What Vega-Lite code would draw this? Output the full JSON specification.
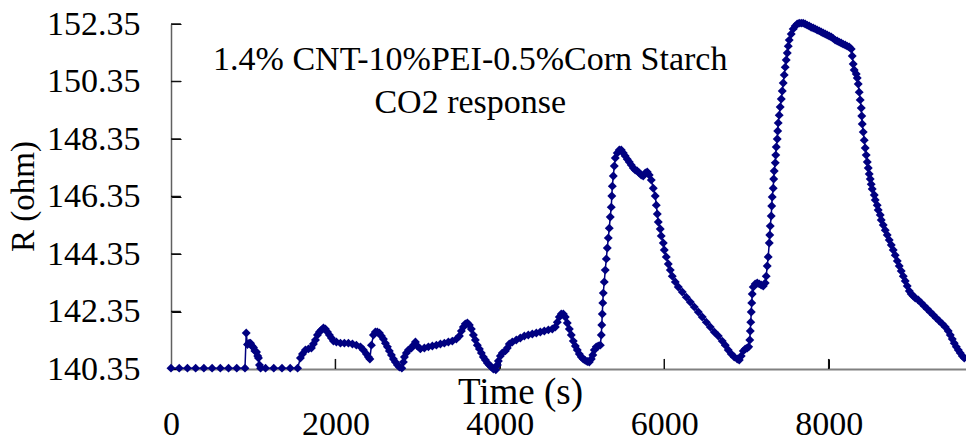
{
  "$schema": "https://vega.github.io/schema/vega-lite/v6.json",
  "width": 795,
  "height": 345,
  "autosize": {"type": "none"},
  "padding": {"left": 171, "top": 24, "right": 0, "bottom": 67},
  "background": "white",
  "config": {
    "view": {"stroke": null},
    "font": "Liberation Serif",
    "axis": {"grid": false, "labelColor": "#000", "titleColor": "#000", "titleFontWeight": "normal", "labelFont": "Liberation Serif", "titleFont": "Liberation Serif"}
  },
  "data": {"values": [
    {"t":0,"r":140.38},{"t":100,"r":140.38},{"t":200,"r":140.38},{"t":300,"r":140.38},{"t":400,"r":140.38},{"t":500,"r":140.38},{"t":600,"r":140.38},{"t":700,"r":140.38},{"t":800,"r":140.38},{"t":900,"r":140.38},
    {"t":915,"r":141.6},{"t":930,"r":141.2},{"t":950,"r":141.25},{"t":967,"r":141.25},{"t":985,"r":141.15},{"t":1003,"r":141.1},{"t":1020,"r":140.98},{"t":1040,"r":140.94},{"t":1055,"r":140.8},{"t":1064,"r":140.73},{"t":1076,"r":140.49},{"t":1090,"r":140.38},
    {"t":1150,"r":140.38},{"t":1250,"r":140.38},{"t":1350,"r":140.38},{"t":1450,"r":140.38},{"t":1540,"r":140.38},
    {"t":1574,"r":140.73},{"t":1599,"r":140.87},{"t":1635,"r":141.01},{"t":1672,"r":141.05},{"t":1708,"r":141.08},{"t":1732,"r":141.22},{"t":1757,"r":141.36},{"t":1781,"r":141.53},{"t":1805,"r":141.64},{"t":1830,"r":141.71},{"t":1854,"r":141.78},{"t":1878,"r":141.74},{"t":1903,"r":141.64},{"t":1927,"r":141.53},{"t":1951,"r":141.43},{"t":1976,"r":141.32},{"t":2012,"r":141.29},{"t":2061,"r":141.25},{"t":2109,"r":141.25},{"t":2158,"r":141.25},{"t":2207,"r":141.22},{"t":2255,"r":141.18},{"t":2304,"r":141.12},{"t":2340,"r":141.01},{"t":2377,"r":140.87},{"t":2401,"r":140.77},{"t":2419,"r":140.7},
    {"t":2438,"r":141.18},{"t":2462,"r":141.53},{"t":2486,"r":141.64},{"t":2510,"r":141.64},{"t":2535,"r":141.6},{"t":2559,"r":141.5},{"t":2584,"r":141.39},{"t":2608,"r":141.25},{"t":2632,"r":141.12},{"t":2656,"r":140.98},{"t":2681,"r":140.84},{"t":2705,"r":140.7},{"t":2729,"r":140.59},{"t":2754,"r":140.49},{"t":2778,"r":140.42},{"t":2808,"r":140.38},
    {"t":2827,"r":140.59},{"t":2839,"r":140.77},{"t":2863,"r":140.91},{"t":2888,"r":141.01},{"t":2924,"r":141.08},{"t":2948,"r":141.18},{"t":2973,"r":141.29},{"t":2997,"r":141.15},{"t":3033,"r":141.05},{"t":3082,"r":141.08},{"t":3131,"r":141.12},{"t":3179,"r":141.15},{"t":3228,"r":141.18},{"t":3277,"r":141.22},{"t":3325,"r":141.25},{"t":3374,"r":141.29},{"t":3422,"r":141.32},{"t":3471,"r":141.39},{"t":3508,"r":141.5},{"t":3532,"r":141.67},{"t":3556,"r":141.81},{"t":3580,"r":141.92},{"t":3605,"r":141.95},{"t":3629,"r":141.88},{"t":3653,"r":141.74},{"t":3678,"r":141.53},{"t":3702,"r":141.36},{"t":3726,"r":141.18},{"t":3751,"r":141.05},{"t":3775,"r":140.91},{"t":3799,"r":140.77},{"t":3824,"r":140.66},{"t":3848,"r":140.56},{"t":3872,"r":140.49},{"t":3897,"r":140.42},{"t":3921,"r":140.35},{"t":3951,"r":140.32},
    {"t":3970,"r":140.49},{"t":3982,"r":140.63},{"t":4006,"r":140.8},{"t":4030,"r":140.91},{"t":4067,"r":140.98},{"t":4091,"r":141.08},{"t":4115,"r":141.22},{"t":4152,"r":141.29},{"t":4200,"r":141.36},{"t":4249,"r":141.43},{"t":4298,"r":141.5},{"t":4346,"r":141.53},{"t":4395,"r":141.57},{"t":4444,"r":141.6},{"t":4492,"r":141.64},{"t":4541,"r":141.67},{"t":4590,"r":141.71},{"t":4638,"r":141.74},{"t":4675,"r":141.81},{"t":4699,"r":141.98},{"t":4723,"r":142.16},{"t":4747,"r":142.26},{"t":4772,"r":142.26},{"t":4796,"r":142.16},{"t":4820,"r":141.95},{"t":4845,"r":141.74},{"t":4869,"r":141.53},{"t":4893,"r":141.32},{"t":4918,"r":141.15},{"t":4942,"r":141.01},{"t":4966,"r":140.87},{"t":4991,"r":140.77},{"t":5015,"r":140.7},{"t":5039,"r":140.65},{"t":5064,"r":140.61},{"t":5088,"r":140.59},{"t":5112,"r":140.7},{"t":5131,"r":140.84},{"t":5149,"r":141.01},{"t":5173,"r":141.12},{"t":5197,"r":141.15},{"t":5222,"r":141.18},
    {"t":5234,"r":141.53},{"t":5240,"r":141.88},{"t":5246,"r":142.26},{"t":5252,"r":142.65},{"t":5258,"r":142.99},{"t":5270,"r":143.38},{"t":5282,"r":143.79},{"t":5295,"r":144.18},{"t":5307,"r":144.56},{"t":5319,"r":144.91},{"t":5331,"r":145.25},{"t":5343,"r":145.64},{"t":5355,"r":145.98},{"t":5362,"r":146.37},{"t":5368,"r":146.71},{"t":5380,"r":147.06},{"t":5392,"r":147.41},{"t":5404,"r":147.69},{"t":5428,"r":147.86},{"t":5453,"r":147.97},{"t":5477,"r":147.97},{"t":5501,"r":147.86},{"t":5525,"r":147.76},{"t":5550,"r":147.65},{"t":5574,"r":147.55},{"t":5598,"r":147.45},{"t":5623,"r":147.34},{"t":5647,"r":147.27},{"t":5671,"r":147.24},{"t":5696,"r":147.17},{"t":5720,"r":147.1},{"t":5744,"r":147.06},{"t":5769,"r":147.17},{"t":5793,"r":147.2},{"t":5817,"r":147.1},{"t":5842,"r":146.92},{"t":5866,"r":146.64},{"t":5890,"r":146.37},{"t":5903,"r":146.05},{"t":5915,"r":145.74},{"t":5927,"r":145.46},{"t":5951,"r":145.22},{"t":5963,"r":144.98},{"t":5988,"r":144.73},{"t":6000,"r":144.49},{"t":6024,"r":144.25},{"t":6049,"r":144.0},{"t":6073,"r":143.79},{"t":6097,"r":143.58},{"t":6134,"r":143.38},{"t":6170,"r":143.2},{"t":6219,"r":143.03},{"t":6268,"r":142.85},{"t":6316,"r":142.68},{"t":6365,"r":142.51},{"t":6414,"r":142.33},{"t":6462,"r":142.16},{"t":6511,"r":141.98},{"t":6559,"r":141.81},{"t":6608,"r":141.64},{"t":6657,"r":141.5},{"t":6705,"r":141.32},{"t":6742,"r":141.18},{"t":6778,"r":141.01},{"t":6815,"r":140.87},{"t":6851,"r":140.77},{"t":6888,"r":140.7},{"t":6912,"r":140.66},
    {"t":6936,"r":140.8},{"t":6961,"r":140.98},{"t":6985,"r":141.05},{"t":7009,"r":141.08},{"t":7027,"r":141.12},{"t":7040,"r":141.36},{"t":7046,"r":141.67},{"t":7052,"r":141.98},{"t":7058,"r":142.33},{"t":7064,"r":142.65},{"t":7070,"r":142.96},{"t":7082,"r":143.2},{"t":7106,"r":143.31},{"t":7131,"r":143.34},{"t":7155,"r":143.31},{"t":7179,"r":143.27},{"t":7204,"r":143.24},{"t":7228,"r":143.34},{"t":7240,"r":143.58},{"t":7252,"r":143.93},{"t":7264,"r":144.25},{"t":7277,"r":144.73},{"t":7283,"r":145.01},{"t":7289,"r":145.32},{"t":7301,"r":145.67},{"t":7307,"r":146.02},{"t":7313,"r":146.33},{"t":7325,"r":146.64},{"t":7331,"r":146.96},{"t":7337,"r":147.24},{"t":7350,"r":147.52},{"t":7356,"r":147.79},{"t":7362,"r":148.07},{"t":7374,"r":148.35},{"t":7380,"r":148.63},{"t":7386,"r":148.91},{"t":7398,"r":149.18},{"t":7410,"r":149.46},{"t":7423,"r":149.74},{"t":7435,"r":150.02},{"t":7447,"r":150.3},{"t":7459,"r":150.58},{"t":7471,"r":150.85},{"t":7483,"r":151.1},{"t":7496,"r":151.34},{"t":7508,"r":151.58},{"t":7520,"r":151.79},{"t":7544,"r":152.0},{"t":7568,"r":152.18},{"t":7593,"r":152.28},{"t":7617,"r":152.35},{"t":7641,"r":152.38},{"t":7666,"r":152.38},{"t":7690,"r":152.38},{"t":7714,"r":152.35},{"t":7739,"r":152.31},{"t":7763,"r":152.28},{"t":7787,"r":152.24},{"t":7812,"r":152.21},{"t":7836,"r":152.18},{"t":7860,"r":152.14},{"t":7885,"r":152.11},{"t":7909,"r":152.07},{"t":7933,"r":152.04},{"t":7958,"r":152.0},{"t":7982,"r":151.97},{"t":8006,"r":151.93},{"t":8031,"r":151.9},{"t":8055,"r":151.85},{"t":8079,"r":151.79},{"t":8104,"r":151.76},{"t":8128,"r":151.72},{"t":8152,"r":151.69},{"t":8176,"r":151.65},{"t":8201,"r":151.62},{"t":8225,"r":151.58},{"t":8249,"r":151.55},{"t":8274,"r":151.48},
    {"t":8286,"r":151.24},{"t":8298,"r":150.96},{"t":8310,"r":150.75},{"t":8335,"r":150.61},{"t":8347,"r":150.47},{"t":8359,"r":150.26},{"t":8371,"r":149.98},{"t":8383,"r":149.71},{"t":8396,"r":149.43},{"t":8402,"r":149.15},{"t":8408,"r":148.87},{"t":8420,"r":148.59},{"t":8432,"r":148.31},{"t":8444,"r":148.04},{"t":8456,"r":147.79},{"t":8469,"r":147.55},{"t":8481,"r":147.34},{"t":8493,"r":147.13},{"t":8505,"r":146.96},{"t":8517,"r":146.78},{"t":8529,"r":146.61},{"t":8554,"r":146.4},{"t":8566,"r":146.23},{"t":8590,"r":146.05},{"t":8602,"r":145.88},{"t":8627,"r":145.71},{"t":8639,"r":145.53},{"t":8663,"r":145.36},{"t":8688,"r":145.18},{"t":8712,"r":145.01},{"t":8736,"r":144.84},{"t":8761,"r":144.66},{"t":8785,"r":144.49},{"t":8809,"r":144.31},{"t":8834,"r":144.11},{"t":8858,"r":143.93},{"t":8882,"r":143.76},{"t":8907,"r":143.58},{"t":8931,"r":143.41},{"t":8955,"r":143.24},{"t":8980,"r":143.06},{"t":9004,"r":142.96},{"t":9028,"r":142.89},{"t":9053,"r":142.82},{"t":9089,"r":142.75},{"t":9126,"r":142.65},{"t":9162,"r":142.54},{"t":9199,"r":142.44},{"t":9235,"r":142.33},{"t":9272,"r":142.23},{"t":9308,"r":142.12},{"t":9345,"r":142.02},{"t":9381,"r":141.92},{"t":9418,"r":141.81},{"t":9454,"r":141.67},{"t":9479,"r":141.53},{"t":9503,"r":141.39},{"t":9527,"r":141.25},{"t":9552,"r":141.12},{"t":9576,"r":141.01},{"t":9600,"r":140.91},{"t":9625,"r":140.8},{"t":9649,"r":140.73}
  ]},
  "layer": [
    {
      "data": {"values": [{"t": 2000}, {"t": 4000}, {"t": 6000}, {"t": 8000}]},
      "mark": {"type": "rule", "color": "#111111", "strokeWidth": 1.5},
      "encoding": {
        "x": {"field": "t", "type": "quantitative", "scale": {"domain": [0, 9670], "nice": false, "zero": false},
          "axis": {"values": [0, 2000, 4000, 6000, 8000], "format": "d", "title": "Time (s)", "titleX": 349, "titleY": 23, "titleBaseline": "middle", "titleAlign": "center", "titleFontSize": 37,
            "labelFontSize": 34, "labelPadding": 48, "tickSize": -10, "tickColor": "#000000", "domainColor": "#808080", "domainWidth": 2, "labelFlush": false, "labelOverlap": false}},
        "y": {"datum": 140.35, "type": "quantitative", "scale": {"domain": [140.35, 152.35], "nice": false, "zero": false},
          "axis": {"values": [140.35, 142.35, 144.35, 146.35, 148.35, 150.35, 152.35], "format": ".2f", "title": "R (ohm)", "titleX": -148, "titleY": 172, "titleBaseline": "middle", "titleAlign": "center", "titleFontSize": 33,
            "labelFontSize": 34, "labelPadding": 41, "tickSize": -10, "tickColor": "#000000", "domainColor": "#606060", "domainWidth": 1.5, "labelOverlap": false}},
        "y2": {"datum": 140.7}
      }
    },
    {
      "data": {"values": [{"r": 142.35}, {"r": 144.35}, {"r": 146.35}, {"r": 148.35}, {"r": 150.35}, {"r": 152.35}]},
      "mark": {"type": "rule", "color": "#111111", "strokeWidth": 1.5},
      "encoding": {
        "y": {"field": "r", "type": "quantitative"},
        "x": {"datum": 0, "type": "quantitative"},
        "x2": {"datum": 120}
      }
    },
    {
      "mark": {"type": "line", "color": "#000080", "strokeWidth": 1.5, "point": {"shape": "diamond", "size": 80, "filled": true, "color": "#000080", "opacity": 1}},
      "encoding": {
        "x": {"field": "t", "type": "quantitative"},
        "y": {"field": "r", "type": "quantitative"}
      }
    },
    {
      "data": {"values": [{}]},
      "mark": {"type": "text", "text": ["1.4% CNT-10%PEI-0.5%Corn Starch", "CO2 response"], "font": "Liberation Serif", "fontSize": 34, "lineHeight": 43, "align": "center", "baseline": "middle", "color": "#000"},
      "encoding": {
        "x": {"datum": 3640, "type": "quantitative"},
        "y": {"datum": 151.1, "type": "quantitative"}
      }
    }
  ]
}
